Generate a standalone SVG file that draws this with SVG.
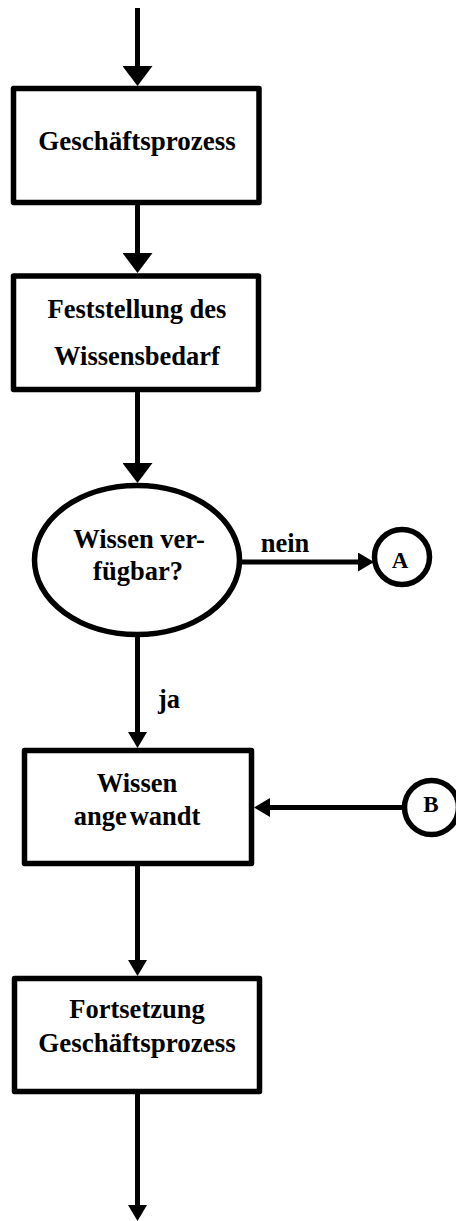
<svg xmlns="http://www.w3.org/2000/svg" width="456" height="1221" viewBox="0 0 456 1221">
  <style>
    .shape { fill: #ffffff; stroke: #000000; stroke-width: 5.5; stroke-linejoin: round; }
    .conn { fill: none; stroke: #000000; stroke-width: 5; }
    .lbl { font-family: "Liberation Serif", "Times New Roman", serif; font-weight: bold; font-size: 26.5px; fill: #000000; text-anchor: middle; }
    .con { font-family: "Liberation Serif", "Times New Roman", serif; font-weight: bold; font-size: 23px; fill: #000000; text-anchor: middle; }
  </style>
  <defs>
    <marker id="big" viewBox="0 0 20 30" refX="0" refY="15" markerWidth="20" markerHeight="30" markerUnits="userSpaceOnUse" orient="auto">
      <path d="M0,0 L20,15 L0,30 Z" fill="#000000"/>
    </marker>
    <marker id="small" viewBox="0 0 16 19" refX="0" refY="9.5" markerWidth="16" markerHeight="19" markerUnits="userSpaceOnUse" orient="auto">
      <path d="M0,0 L16,9.5 L0,19 Z" fill="#000000"/>
    </marker>
  </defs>

  <g id="connectors">
    <path class="conn" d="M137.5,8 V66" marker-end="url(#big)"/>
    <path class="conn" d="M137.5,202.5 V253" marker-end="url(#big)"/>
    <path class="conn" d="M137.5,389.5 V463" marker-end="url(#big)"/>
    <path class="conn" d="M242,562 H358" marker-end="url(#small)"/>
    <text class="lbl" x="285" y="552">nein</text>
    <path class="conn" d="M137.5,634.5 V732" marker-end="url(#small)"/>
    <text class="lbl" x="169" y="708">ja</text>
    <path class="conn" d="M404,807.5 H270" marker-end="url(#small)"/>
    <path class="conn" d="M137.5,863.5 V960" marker-end="url(#small)"/>
    <path class="conn" d="M137.5,1091.5 V1205" marker-end="url(#small)"/>
  </g>

  <g id="node-geschaeftsprozess">
    <rect class="shape" x="13.5" y="88.5" width="245.5" height="114"/>
    <text class="lbl" x="137" y="150" style="font-size:27px">Geschäftsprozess</text>
  </g>

  <g id="node-feststellung">
    <rect class="shape" x="13.5" y="276" width="245" height="113.5"/>
    <text class="lbl" x="137" y="318">Feststellung des</text>
    <text class="lbl" x="137" y="365">Wissensbedarf</text>
  </g>

  <g id="node-entscheidung">
    <ellipse class="shape" cx="137" cy="560" rx="102.5" ry="74.5"/>
    <text class="lbl" x="139" y="548">Wissen ver-</text>
    <text class="lbl" x="138" y="580">fügbar?</text>
  </g>

  <g id="node-a">
    <circle class="shape" cx="402" cy="557" r="27.5"/>
    <text class="con" x="400" y="568">A</text>
  </g>

  <g id="node-wissen-angewandt">
    <rect class="shape" x="24.5" y="750.5" width="227" height="113"/>
    <text class="lbl" x="137" y="792">Wissen</text>
    <text class="lbl" x="137" y="825"><tspan>ange</tspan><tspan dx="3">wandt</tspan></text>
  </g>

  <g id="node-b">
    <circle class="shape" cx="431.5" cy="807.5" r="27"/>
    <text class="con" x="431" y="812">B</text>
  </g>

  <g id="node-fortsetzung">
    <rect class="shape" x="14.5" y="978.5" width="245" height="113"/>
    <text class="lbl" x="137" y="1018">Fortsetzung</text>
    <text class="lbl" x="137" y="1052" style="font-size:27px">Geschäftsprozess</text>
  </g>
</svg>
